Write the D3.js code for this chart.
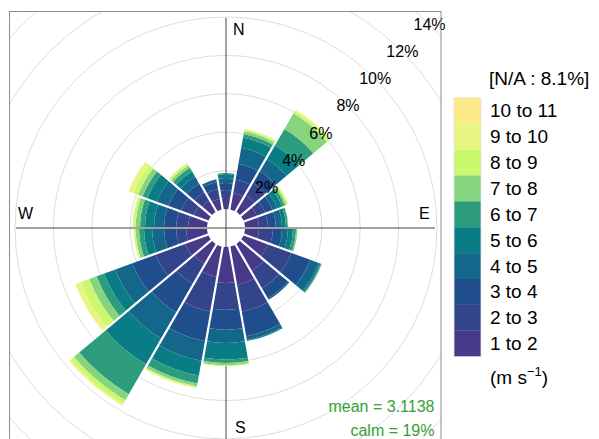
<!DOCTYPE html>
<html>
<head>
<meta charset="utf-8">
<script src="https://cdn.jsdelivr.net/npm/d3@7"></script>
<style>
  body { margin: 0; background: #fff; }
  text { font-family: "Liberation Sans", Arial, Helvetica, sans-serif; }
</style>
</head>
<body>
<div id="chart"></div>
<script>
// wind directions (degrees from north), one bar each
const directions = [0, 20, 40, 60, 80, 100, 120, 140, 160, 180, 200, 220, 240, 260, 280, 300, 320, 340]

// percentage of time in each speed bin, per direction
const ws1to2 = [0.57, 0.885, 0.99, 0.73, 0.73, 0.73, 1.35, 1.61, 2.03, 1.875, 1.6, 1.2, 1.3, 1.09, 0.99, 0.83, 0.68, 0.57]
const ws2to3 = [0.42, 0.705, 0.73, 0.47, 0.47, 0.73, 1.31, 1.05, 1.41, 1.39, 1.84, 1.2, 1.62, 0.52, 0.62, 0.68, 0.52, 0.52]
const ws3to4 = [0.36, 0.83, 0.73, 0.41, 0.41, 0.47, 1.04, 0.62, 1.3, 1.04, 1.56, 1.71, 1.3, 0.63, 0.63, 0.73, 0.52, 0.37]
const ws4to5 = [0.26, 0.84, 0.73, 0.265, 0.32, 0.31, 0.47, 0.08, 0.21, 0.69, 1.04, 1.57, 0.94, 0.62, 0.52, 0.62, 0.42, 0.14]
const ws5to6 = [0.21, 0.54, 0.83, 0.26, 0.205, 0.26, 0.1, 0, 0.05, 0.87, 0.78, 1.56, 0.62, 0.42, 0.47, 0.53, 0.31, 0]
const ws6to7 = [0.05, 0.19, 0.99, 0.155, 0.105, 0.16, 0.05, 0, 0, 0.17, 0.42, 1.8, 0.42, 0.26, 0.26, 0.26, 0.21, 0]
const ws7to8 = [0, 0.15, 0.94, 0.11, 0.02, 0.07, 0.03, 0, 0, 0.12, 0.16, 0.36, 0.41, 0.18, 0.23, 0.26, 0.15, 0]
const ws8to9 = [0, 0.08, 0.15, 0.07, 0, 0, 0, 0, 0, 0.05, 0.07, 0.21, 0.47, 0.08, 0.13, 0.26, 0.11, 0]
const ws9to10 = [0, 0.05, 0.06, 0.03, 0, 0, 0, 0, 0, 0, 0.03, 0.11, 0.29, 0.03, 0.03, 0.25, 0.03, 0]
const ws10to11 = [0, 0, 0, 0, 0, 0, 0, 0, 0, 0, 0, 0, 0.02, 0, 0, 0.02, 0, 0]

const speedBins = ['1 to 2', '2 to 3', '3 to 4', '4 to 5', '5 to 6', '6 to 7', '7 to 8', '8 to 9', '9 to 10', '10 to 11']
const binColours = ['#473b89', '#34448a', '#204d8c', '#15668b', '#0a7c86', '#2d9c7d', '#86d47d', '#ccf86e', '#e8f580', '#fbea87']
const pctTicks = [2, 4, 6, 8, 10, 12, 14]
const gridPcts = [2, 4, 6, 8, 10, 12, 14, 16]
const compass = [{ label: 'N', angle: 0 }, { label: 'E', angle: 90 }, { label: 'S', angle: 180 }, { label: 'W', angle: 270 }]
const naLabel = '[N/A : 8.1%]'
const meanLabel = 'mean = 3.1138'
const calmLabel = 'calm = 19%'

const WIDTH = 599
const HEIGHT = 439
const CX = 226
const CY = 228
const HOLE = 19
const PANEL = { x: 9.5, y: 11.5, w: 431.5, h: 440 }

const series = [ws1to2, ws2to3, ws3to4, ws4to5, ws5to6, ws6to7, ws7to8, ws8to9, ws9to10, ws10to11]

const svg = d3.select('#chart')
  .append('svg')
  .attr('width', WIDTH)
  .attr('height', HEIGHT)

svg.append('defs').append('clipPath')
  .attr('id', 'panel-clip')
  .append('rect')
  .attr('x', PANEL.x).attr('y', PANEL.y)
  .attr('width', PANEL.w).attr('height', PANEL.h)

// percent -> radius, with the calm hole in the middle
const r = d3.scaleLinear().domain([0, 14]).range([HOLE, HOLE + 19.2 * 14])

// clip in page coords, then move to the rose centre
const g = svg.append('g')
  .attr('clip-path', 'url(#panel-clip)')
  .append('g')
  .attr('transform', `translate(${CX},${CY})`)

g.selectAll('.grid')
  .data(gridPcts)
  .enter()
  .append('circle')
  .attr('class', 'grid')
  .attr('r', d => r(d))
  .attr('fill', 'none')
  .attr('stroke', '#dcdcdc')
  .attr('stroke-width', 1)

// axis cross
const AXIS_LEN = 210
g.append('line')
  .attr('x1', -AXIS_LEN).attr('x2', AXIS_LEN - 1).attr('y1', 0).attr('y2', 0)
  .attr('stroke', '#444').attr('stroke-width', 1)
g.append('line')
  .attr('x1', 0).attr('x2', 0).attr('y1', -AXIS_LEN).attr('y2', AXIS_LEN + 2)
  .attr('stroke', '#444').attr('stroke-width', 1)

// stacked segments
const segments = []
directions.forEach((dir, i) => {
  let cum = 0
  series.forEach((s, b) => {
    const v = s[i]
    if (v > 0) {
      segments.push({ dir, bin: b, from: cum, to: cum + v })
    }
    cum += v
  })
})

const arc = d3.arc()
  .innerRadius(d => r(d.from))
  .outerRadius(d => r(d.to))
  .startAngle(d => (d.dir - 10) * Math.PI / 180)
  .endAngle(d => (d.dir + 10) * Math.PI / 180)
  .padRadius(100)
  .padAngle(0.022)

g.selectAll('.seg')
  .data(segments)
  .enter()
  .append('path')
  .attr('class', 'seg')
  .attr('d', arc)
  .attr('fill', d => binColours[d.bin])

// percentage labels along 45 degrees
svg.selectAll('.pct')
  .data(pctTicks)
  .enter()
  .append('text')
  .attr('class', 'pct')
  .attr('x', d => CX + r(d) * Math.SQRT1_2)
  .attr('y', d => CY - r(d) * Math.SQRT1_2)
  .attr('text-anchor', 'middle')
  .attr('dominant-baseline', 'central')
  .attr('font-size', 16)
  .attr('fill', '#000')
  .text(d => d + '%')

// compass letters
const compassPos = {
  N: [233, 34.5], E: [419, 219], S: [235, 433], W: [18, 219]
}
svg.selectAll('.compass')
  .data(compass)
  .enter()
  .append('text')
  .attr('class', 'compass')
  .attr('x', d => compassPos[d.label][0])
  .attr('y', d => compassPos[d.label][1])
  .attr('font-size', 16)
  .attr('fill', '#000')
  .text(d => d.label)

// panel border
svg.append('rect')
  .attr('x', PANEL.x).attr('y', PANEL.y)
  .attr('width', PANEL.w).attr('height', PANEL.h)
  .attr('fill', 'none')
  .attr('stroke', '#8c8c8c')
  .attr('stroke-width', 1)

// mean / calm
svg.append('text')
  .attr('x', 434.5).attr('y', 412)
  .attr('text-anchor', 'end')
  .attr('font-size', 16)
  .attr('fill', '#35a035')
  .text(meanLabel)
svg.append('text')
  .attr('x', 434.5).attr('y', 436)
  .attr('text-anchor', 'end')
  .attr('font-size', 16)
  .attr('fill', '#35a035')
  .text(calmLabel)

// legend
const LEG_X = 454
const LEG_Y = 97.7
const LEG_H = 25.9
const legend = svg.append('g').attr('class', 'legend')
const order = d3.range(speedBins.length).reverse()

legend.selectAll('rect')
  .data(order)
  .enter()
  .append('rect')
  .attr('x', LEG_X)
  .attr('y', (d, i) => LEG_Y + i * LEG_H)
  .attr('width', 27)
  .attr('height', LEG_H)
  .attr('fill', d => binColours[d])

legend.append('rect')
  .attr('x', LEG_X).attr('y', LEG_Y)
  .attr('width', 27).attr('height', LEG_H * speedBins.length)
  .attr('fill', 'none')
  .attr('stroke', '#e4e4e4')
  .attr('stroke-width', 0.8)

legend.selectAll('.leg-label')
  .data(order)
  .enter()
  .append('text')
  .attr('class', 'leg-label')
  .attr('x', 490)
  .attr('y', (d, i) => LEG_Y + i * LEG_H + LEG_H / 2)
  .attr('dominant-baseline', 'central')
  .attr('font-size', 19)
  .attr('fill', '#000')
  .text(d => speedBins[d])

legend.append('text')
  .attr('x', 489).attr('y', 85)
  .attr('font-size', 19)
  .attr('fill', '#000')
  .text(naLabel)

const units = legend.append('text')
  .attr('x', 490).attr('y', 384)
  .attr('font-size', 19)
  .attr('fill', '#000')
units.append('tspan').text('(m s')
units.append('tspan').attr('dy', -8).attr('font-size', 13).text('\u22121')
units.append('tspan').attr('dy', 8).text(')')
</script>
</body>
</html>
